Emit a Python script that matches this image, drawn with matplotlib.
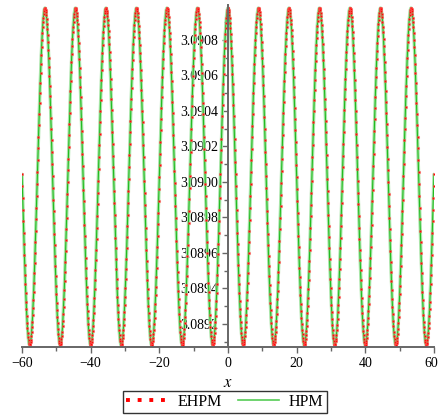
import numpy as np
import matplotlib
matplotlib.use("Agg")
import matplotlib.pyplot as plt
from matplotlib.lines import Line2D
from matplotlib.ticker import MultipleLocator, FormatStrFormatter
import matplotlib.transforms as mtransforms

# Values
x_limits = [-60, 60]
y_limits = [3.08907, 3.090997]
y_center = 3.09003        # mid level of the oscillation
y_amplitude = 0.00095     # half peak-to-trough height
period = 8.886            # distance between neighbouring peaks (peak at x = 0)
n_samples = 1201          # EHPM sample points across the x range
series_names = ["EHPM", "HPM"]
x_major = [-60, -40, -20, 0, 20, 40, 60]
x_labels = ['\u221260', '\u221240', '\u221220', '0', '20', '40', '60']
y_major = [3.0892, 3.0894, 3.0896, 3.0898, 3.0900, 3.0902, 3.0904, 3.0906, 3.0908]

x = np.linspace(x_limits[0], x_limits[1], n_samples)
y = y_center + y_amplitude * np.cos(2 * np.pi * x / period)

plt.rcParams['font.family'] = ['Liberation Serif', 'DejaVu Serif']
plt.rcParams['mathtext.fontset'] = 'stix'

fig = plt.figure(figsize=(4.38, 4.17), dpi=100)
ax = fig.add_axes([22/438, 1-347/417, (434-22)/438, (347-5)/417])

# HPM: green line with light halo
ax.plot(x, y, color='#a8e6a8', lw=2.4, zorder=1.8, solid_capstyle='round')
ax.plot(x, y, color='#22bb22', lw=0.8, zorder=1.9)
# EHPM: red points
ax.plot(x, y, linestyle='none', marker='s', ms=1.7, mfc='#ff0000',
        mec=(1, 0.4, 0.4, 0.4), mew=0.8, zorder=2.0)

ax.set_xlim(*x_limits)
ax.set_ylim(*y_limits)

for s in ['top', 'right']:
    ax.spines[s].set_visible(False)
ax.spines['left'].set_position(('data', 0))
axis_col = '#666666'
for s in ['left', 'bottom']:
    ax.spines[s].set_color(axis_col)
    ax.spines[s].set_linewidth(1.4)
    ax.spines[s].set_zorder(3)

ax.set_xticks(x_major)
ax.set_xticklabels(x_labels)
ax.xaxis.set_minor_locator(MultipleLocator(10))
ax.set_yticks(y_major)
ax.yaxis.set_minor_locator(MultipleLocator(0.0001))
ax.yaxis.set_major_formatter(FormatStrFormatter('%.4f'))
ax.tick_params(axis='both', which='major', length=4, width=1, color=axis_col,
               labelsize=10, direction='out')
ax.tick_params(axis='both', which='minor', length=3, width=1, color=axis_col,
               direction='out')
ax.tick_params(axis='y', which='major', pad=3)
ax.tick_params(axis='x', which='major', pad=3)

# keep the rightmost label inside the figure
last = ax.get_xticklabels()[-1]
last.set_transform(last.get_transform() + mtransforms.ScaledTranslation(-3/100, 0, fig.dpi_scale_trans))

ax.set_xlabel('$x$', fontsize=12, labelpad=4)

handles = [Line2D([], [], color='#ff0000', lw=2.8, linestyle=(0, (1, 2)), dash_capstyle='butt'),
           Line2D([], [], color='#55cc55', lw=1.2)]
leg = fig.legend(handles, series_names, loc='center', bbox_to_anchor=(225/438, 1-402/417),
                 ncol=2, frameon=True, fancybox=False, fontsize=11.5,
                 handlelength=2.6, columnspacing=1.0, handletextpad=0.6,
                 borderpad=0.2, borderaxespad=0)
leg.get_frame().set_edgecolor('black')
leg.get_frame().set_linewidth(1.0)

fig.savefig('out.png', dpi=100)
